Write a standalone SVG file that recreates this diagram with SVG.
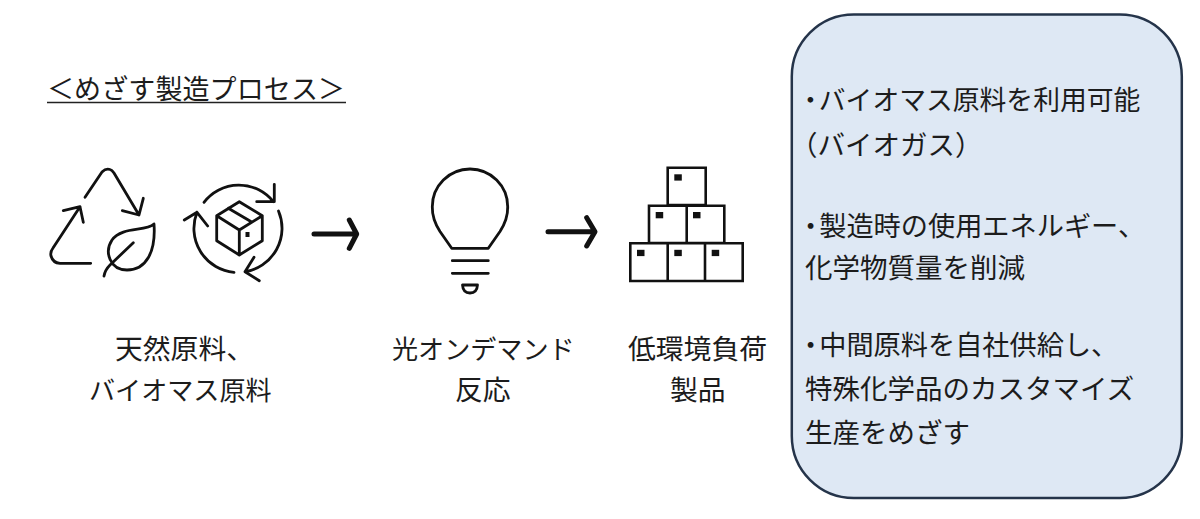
<svg xmlns="http://www.w3.org/2000/svg" width="1200" height="519" viewBox="0 0 1200 519">
<style>
text{font-family:"Noto Sans CJK JP","Noto Sans CJK SC",sans-serif;font-size:27px;fill:#1c1c1c}
.i{fill:none;stroke:#111;stroke-width:2.8;stroke-linecap:round;stroke-linejoin:round}
.b{fill:none;stroke:#111;stroke-width:2.6;stroke-linejoin:miter}
.a{fill:none;stroke:#111;stroke-linecap:round;stroke-linejoin:round}
.s{fill:#111}
.l26{font-size:26.1px}
.l28{font-size:27.8px}
.p{font-size:27.5px}
.d{letter-spacing:-5px}
</style>
<rect width="1200" height="519" fill="#fff"/>
<g id="title">
<text x="47" y="99" textLength="298" lengthAdjust="spacing">＜めざす製造プロセス＞</text>
<line x1="47" y1="102.5" x2="346" y2="102.5" stroke="#222" stroke-width="1.6"/>
</g>
<g id="node-raw-materials">
<path class="i" d="M85 197.3L102 172Q106 168 110 169.5Q112 170 114 173L139 215M143.3 198.3L139 215L122.3 210.7"/>
<path class="i" d="M90.7 263.3H60Q53 263 51 256Q50 252 53 248L80 206.7M63.3 210.7L80 206.7L83.3 222.3"/>
<path class="i" d="M154 224C146 232 122 226 112 240C104 252 110 270 127 270C146 270 156 252 154 224Z"/>
<path class="i" d="M133.3 242.7L110 265Q105 270 104 276"/>
<path class="i" d="M204 202.3A44 44 0 0 1 273.3 201.7M274.3 184.3V201.7H256.7"/>
<path class="i" d="M278.5 211A44 44 0 0 1 245 271.7M254 257.3L245 271.7L259.3 280.7"/>
<path class="i" d="M234 272.3A44 44 0 0 1 197 212.3M184.3 220L197 212.3L207.7 226"/>
<path class="i" d="M239.3 201.7L262.3 215.7V240.7L239.3 255L216.7 240.7V215.7ZM216.7 215.7L239.3 230L262.3 215.7M239.3 230V255M228.3 208.3L251.7 222"/>
<rect class="s" x="245.5" y="232" width="4" height="5"/>
<text class="l28" x="115" y="359">天然原料、</text>
<text class="l26" x="89" y="400">バイオマス原料</text>
</g>
<g id="node-reaction">
<path class="i" d="M451.7 248.3L440 231.5Q432 219 432.3 206.7A37.7 37.7 0 0 1 507.7 206.7Q508 219 500 231.5L488.3 248.3Z"/>
<path class="i" d="M452.3 260.7H488.3M452.3 273.3H488.3"/>
<path class="i" d="M462.5 285H477.5Q477 293 470 293Q463 293 462.5 285Z"/>
<text class="l26" x="392" y="359">光オンデマンド</text>
<text class="l28" x="455" y="400">反応</text>
</g>
<g id="node-products">
<path class="b" d="M667.7 167.7H705.7V205H667.7ZM649 205.7H724.3V243H649ZM686.7 205.7V243M630.3 243.3H742.7V281H630.3ZM667.7 243.3V281M705 243.3V281"/>
<g class="s">
<rect x="674.3" y="174.3" width="7.5" height="6.3"/>
<rect x="655.7" y="212" width="7.5" height="6.3"/>
<rect x="693" y="212" width="7.5" height="6.3"/>
<rect x="637" y="249.8" width="7.5" height="6.3"/>
<rect x="674.3" y="249.8" width="7.5" height="6.3"/>
<rect x="711.7" y="249.8" width="7.5" height="6.3"/>
</g>
<text class="l28" x="628" y="359">低環境負荷</text>
<text class="l28" x="670" y="400">製品</text>
</g>
<g id="connectors">
<path class="a" stroke-width="5" d="M314 234H356M349.3 220L356.7 234L349.3 248.3"/>
<path class="a" stroke-width="5" d="M548 231.7H594M586.7 217.7L595 231.7L586.7 246"/>
</g>
<g id="node-benefits">
<rect x="791.8" y="14.5" width="390" height="483.5" rx="62" ry="62" fill="#dee8f4" stroke="#25344a" stroke-width="2.5"/>
<text x="797" y="110" style="font-size:26.8px"><tspan class="d">・</tspan>バイオマス原料を利用可能</text>
<text class="p" x="790" y="155">（バイオガス）</text>
<text x="797" y="236" style="font-size:27.2px"><tspan class="d">・</tspan>製造時の使用エネルギー、</text>
<text class="p" x="805" y="278">化学物質量を削減</text>
<text x="797" y="355" style="font-size:27.2px"><tspan class="d">・</tspan>中間原料を自社供給し、</text>
<text class="p" x="805" y="399">特殊化学品のカスタマイズ</text>
<text class="p" x="805" y="443">生産をめざす</text>
</g>
</svg>
